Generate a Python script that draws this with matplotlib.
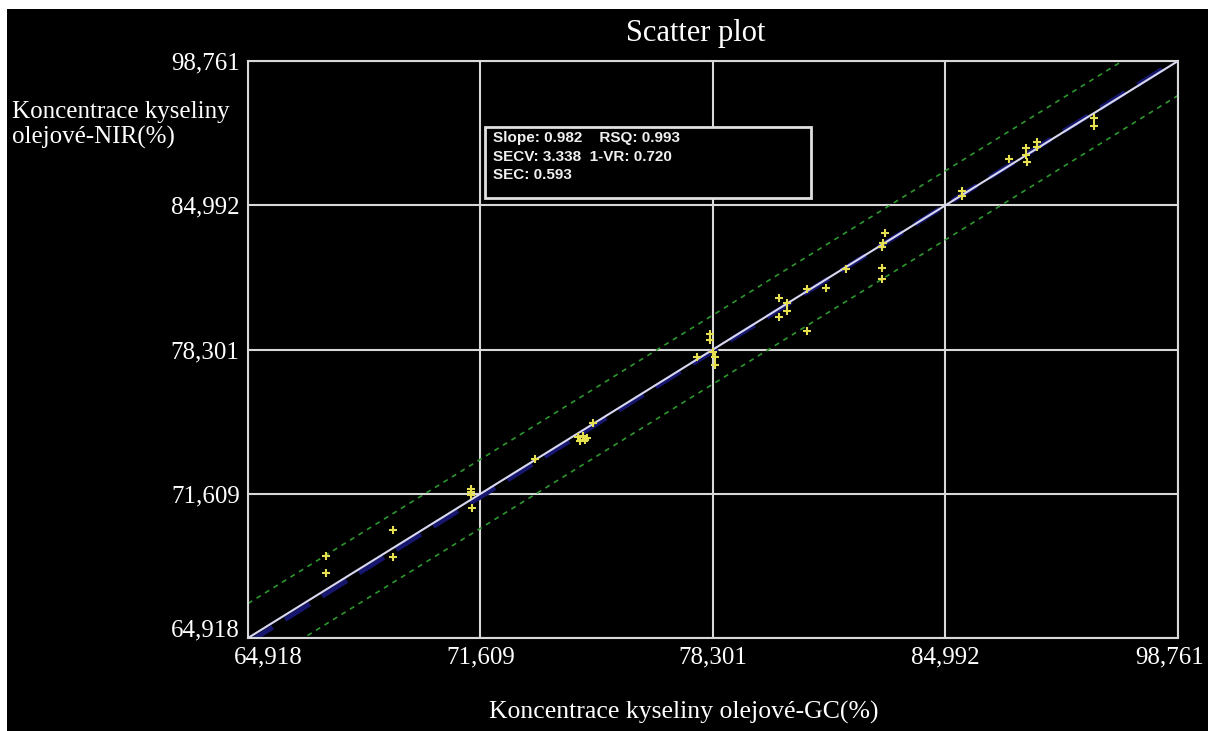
import matplotlib
matplotlib.use("Agg")
import matplotlib.pyplot as plt
import matplotlib.transforms as mtransforms
from matplotlib.patches import Rectangle
import numpy as np

# Reference (GC) vs predicted (NIR) oleic acid concentration
gc_values = [67.16, 67.16, 69.09, 69.09, 71.34, 71.34, 71.34, 71.37,
             73.18, 74.42, 74.56, 74.68, 74.47, 74.62, 74.85,
             77.84, 78.21, 78.21, 78.30, 78.36, 78.36,
             80.20, 80.43, 80.43, 80.20, 81.01, 81.01, 81.55, 82.13,
             83.25, 83.19, 83.17, 83.17, 83.17,
             85.47, 85.47, 86.82, 87.31, 87.31, 87.34, 87.63, 87.63,
             89.27, 89.27]
nir_values = [68.72, 67.93, 69.93, 68.68, 71.83, 71.69, 71.55, 70.95,
              73.22, 74.24, 74.29, 74.20, 74.06, 74.10, 74.89,
              77.95, 79.02, 78.74, 78.19, 77.95, 77.58,
              80.69, 80.46, 80.09, 79.81, 81.11, 79.16, 81.16, 82.04,
              83.71, 83.24, 83.06, 82.08, 81.57,
              85.65, 85.42, 87.14, 87.65, 87.33, 87.00, 87.93, 87.70,
              89.04, 88.67]

tick_values = [64.918, 71.609, 78.301, 84.992, 91.684]
tick_labels = ["64,918", "71,609", "78,301", "84,992", "98,761"]

regression_ends = [64.70, 91.76]   # fitted line y-values at axis ends
band_offset = 1.6                  # dotted confidence band

stats_lines = ["Slope: 0.982    RSQ: 0.993",
               "SECV: 3.338  1-VR: 0.720",
               "SEC: 0.593"]

W, H = 1208, 731
fig = plt.figure(figsize=(W / 100, H / 100), dpi=100, facecolor="white")
# black canvas with thin white strip on top/left (as in the screenshot)
fig.patches.append(Rectangle((7 / W, 0), 1 - 7 / W, (H - 9) / H,
                             transform=fig.transFigure, facecolor="black",
                             edgecolor="none", zorder=-5))

ax = fig.add_axes([248 / W, (H - 638) / H, 930 / W, 577 / H])
ax.set_facecolor("black")
lo, hi = tick_values[0], tick_values[-1]
ax.set_xlim(lo, hi)
ax.set_ylim(lo, hi)

grid_col = "#d8d8d8"
for sp in ax.spines.values():
    sp.set_color(grid_col)
    sp.set_linewidth(1.5)
ax.set_xticks(tick_values)
ax.set_yticks(tick_values)
ax.grid(True, color=grid_col, linewidth=1.5)
ax.set_axisbelow(True)
ax.tick_params(length=0, colors="white", labelsize=18, pad=6)
ax.set_xticklabels(tick_labels, family="Liberation Serif", color="white")
ax.set_yticklabels(tick_labels, family="Liberation Serif", color="white")

# nudge end tick labels like the original
def shift(label, dx, dy):
    label.set_transform(label.get_transform() +
                        mtransforms.ScaledTranslation(dx / 100, dy / 100, fig.dpi_scale_trans))

shift(ax.get_xticklabels()[0], 20, 0)
shift(ax.get_xticklabels()[-1], -8, 0)
shift(ax.get_yticklabels()[0], 0, 10)

xs = np.array([lo, hi])
# regression line (dark blue dashed)
ax.plot(xs, regression_ends, color="#16166e", linewidth=3.5, dashes=(6, 3), zorder=2)
# identity line
ax.plot(xs, xs, color="#d8d8f0", linewidth=1.5, zorder=3)
# confidence band
ax.plot(xs, xs + band_offset, color="#2e962e", linewidth=1.2, linestyle=(0, (3, 3)), zorder=2)
ax.plot(xs, xs - band_offset, color="#2e962e", linewidth=1.2, linestyle=(0, (3, 3)), zorder=2)

ax.scatter(gc_values, nir_values, marker="+", s=40, color="#e6e050",
           linewidths=1.5, zorder=4)

# stats box
ax.add_patch(Rectangle((0.2548, 0.7626), 0.3505, 0.123, transform=ax.transAxes,
                       facecolor="black", edgecolor="#e0e0e0", linewidth=2, zorder=5))
for i, line in enumerate(stats_lines):
    ax.text(0.2634, 0.866 - i * 0.032, line, transform=ax.transAxes,
            color="#f0f0f0", fontsize=11, fontweight="bold", family="Liberation Sans",
            va="center", ha="left", zorder=6)

fig.text(696 / W, 1 - 33 / H, "Scatter plot", color="white", fontsize=22,
         family="Liberation Serif", ha="center", va="center")
fig.text(12 / W, 1 - 125 / H, "Koncentrace kyseliny\nolejové-NIR(%)", color="white",
         fontsize=18, family="Liberation Serif", ha="left", va="center", linespacing=1.2)
fig.text(684 / W, 1 - 712 / H, "Koncentrace kyseliny olejové-GC(%)", color="white",
         fontsize=18.5, family="Liberation Serif", ha="center", va="center")

fig.savefig("out.png", dpi=100, facecolor=fig.get_facecolor())
